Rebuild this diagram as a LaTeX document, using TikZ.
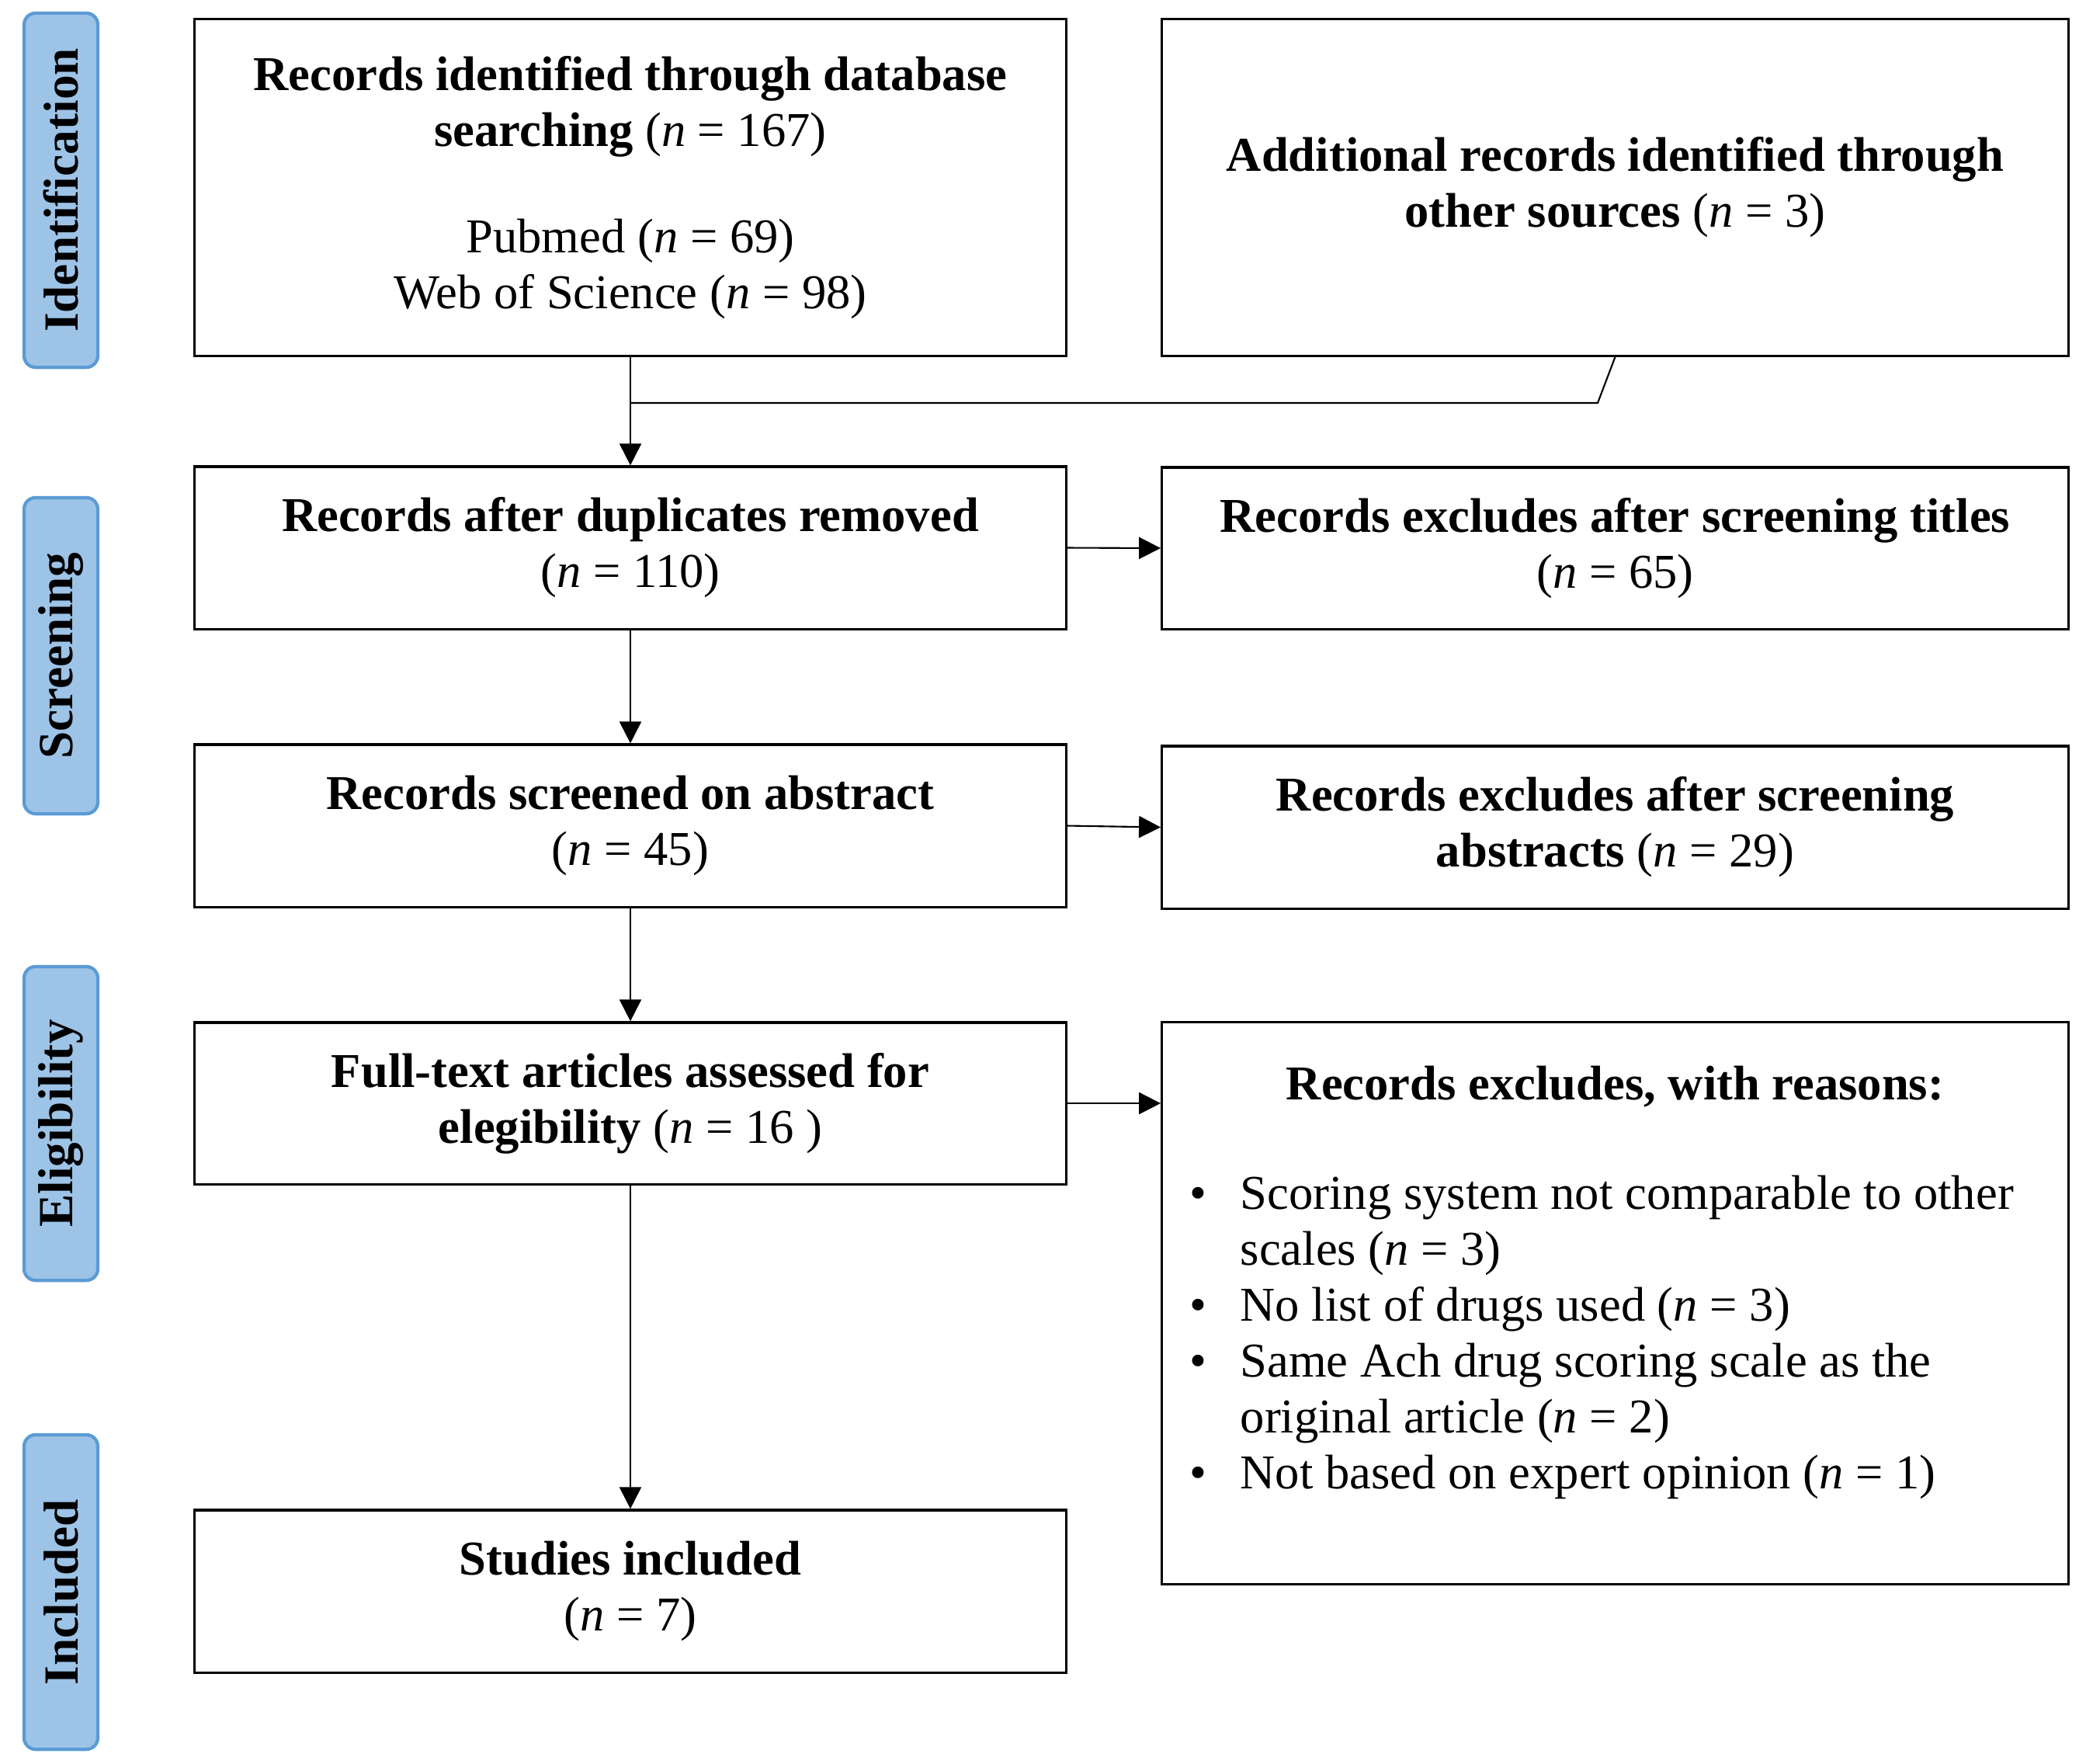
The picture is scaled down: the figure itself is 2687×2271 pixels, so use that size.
\documentclass[tikz,border=0pt]{standalone}
\usepackage{fontspec}
\setmainfont{Liberation Serif}
\usetikzlibrary{arrows.meta}
\definecolor{labfill}{HTML}{9DC3E6}
\definecolor{labdraw}{HTML}{5B9BD5}
\begin{document}
\begin{tikzpicture}[x=0.01cm,y=-0.01cm,
  boxl/.style={draw, line width=0.9pt, minimum width=11.22cm, align=center, inner sep=0pt, font=\fontsize{17.8}{20.5}\selectfont},
  boxr/.style={draw, line width=0.9pt, minimum width=11.67cm, align=center, inner sep=0pt, font=\fontsize{17.8}{20.5}\selectfont},
  lab/.style={rotate=90, draw=labdraw, fill=labfill, line width=1.2pt, rounded corners=0.15cm, minimum height=0.95cm, inner sep=0pt, font=\fontsize{18}{20}\selectfont\bfseries},
  conn/.style={line width=0.6pt},
  arr/.style={line width=0.6pt, -{Triangle[length=0.28cm,width=0.28cm]}},
  txt/.style={inner sep=0pt, font=\fontsize{17.8}{20.5}\selectfont}
]
\useasboundingbox (0,0) rectangle (2687,2271);

% phase labels
\node[lab, minimum width=4.56cm] (l1) at (78.5,245) {Identification};
\node[lab, minimum width=4.07cm] (l2) at (78.5,844.5) {Screening};
\node[lab, minimum width=4.04cm] (l3) at (78.5,1447) {Eligibility};
\node[lab, minimum width=4.05cm] (l4) at (78.5,2050.5) {Included};

% boxes
\node[boxl, minimum height=4.33cm] (b1) at (812,241.5)
  {\textbf{Records identified through database}\\ \textbf{searching} (\textit{n} = 167)\\[18.5pt]
   Pubmed (\textit{n} = 69)\\ Web of Science (\textit{n} = 98)};
\node[boxr, minimum height=4.33cm] (b2) at (2080.5,241.5)
  {\textbf{Additional records identified through}\\ \textbf{other sources} (\textit{n} = 3)};
\node[boxl, minimum height=2.09cm] (b3) at (812,705.5)
  {\textbf{Records after duplicates removed}\\ (\textit{n} = 110)};
\node[boxr, minimum height=2.08cm] (b4) at (2080.5,706)
  {\textbf{Records excludes after screening titles}\\ (\textit{n} = 65)};
\node[boxl, minimum height=2.09cm] (b5) at (812,1063.5)
  {\textbf{Records screened on abstract}\\ (\textit{n} = 45)};
\node[boxr, minimum height=2.09cm] (b6) at (2080.5,1065.5)
  {\textbf{Records excludes after screening}\\ \textbf{abstracts} (\textit{n} = 29)};
\node[boxl, minimum height=2.08cm] (b7) at (812,1421)
  {\textbf{Full-text articles assessed for}\\ \textbf{elegibility} (\textit{n} = 16 )};
\node[boxr, minimum height=7.23cm] (b8) at (2080.5,1678.5) {};
\node[boxl, minimum height=2.09cm] (b9) at (812,2049.5)
  {\textbf{Studies included}\\ (\textit{n} = 7)};

% box 8 content
\node[txt] (b8t) at (2080.5,1400) {\textbf{Records excludes, with reasons:}};
\node[txt, anchor=north west, align=left] (b8l) at (1532,1513)
  {\makebox[0.65cm][l]{\textbullet}Scoring system not comparable to other\\
   \hspace*{0.65cm}scales (\textit{n} = 3)\\
   \makebox[0.65cm][l]{\textbullet}No list of drugs used (\textit{n} = 3)\\
   \makebox[0.65cm][l]{\textbullet}Same Ach drug scoring scale as the\\
   \hspace*{0.65cm}original article (\textit{n} = 2)\\
   \makebox[0.65cm][l]{\textbullet}Not based on expert opinion (\textit{n} = 1)};

% connectors
\coordinate (j) at (812,519);
\coordinate (k) at (2058,519);
\draw[conn] (j) -- (k) -- (b2.south);
\draw[arr] (b1.south) -- (b3.north);
\draw[arr] (b3.south) -- (b5.north);
\draw[arr] (b5.south) -- (b7.north);
\draw[arr] (b7.south) -- (b9.north);
\draw[arr] (b3.east) -- (b4.west);
\draw[arr] (b5.east) -- (b6.west);
\draw[arr] (b7.east) -- (b7.east -| b8.west);
\end{tikzpicture}
\end{document}
